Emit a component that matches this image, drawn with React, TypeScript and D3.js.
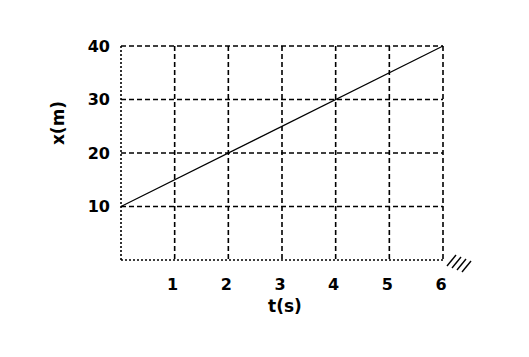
import React from "react";
import * as d3 from "d3";

const xTicks = [1, 2, 3, 4, 5, 6];
const yTicks = [10, 20, 30, 40];
const lineT = [0, 6];
const lineX = [10, 40];

export default function App() {
  const W = 529, H = 357;
  const x = d3.scaleLinear().domain([0, 6]).range([121, 443]);
  const y = d3.scaleLinear().domain([0, 40]).range([260, 46]);
  const line = d3.line<number>().x((d) => x(lineT[d])).y((d) => y(lineX[d]));
  const font = "'DejaVu Sans', sans-serif";
  const hatch = [0, 1, 2, 3];
  return (
    <svg width={W} height={H} style={{ position: "absolute", left: 0, top: 0, background: "#fff" }}>
      {xTicks.map((t) => (
        <line key={"gx" + t} x1={x(t)} x2={x(t)} y1={y(40)} y2={y(0)} stroke="#000" strokeWidth={1.6} strokeDasharray="5,3" />
      ))}
      {yTicks.map((t) => (
        <line key={"gy" + t} x1={x(0)} x2={x(6)} y1={y(t)} y2={y(t)} stroke="#000" strokeWidth={1.6} strokeDasharray="5,3" />
      ))}
      <line x1={x(0)} x2={x(0)} y1={y(40)} y2={y(0)} stroke="#000" strokeWidth={1.6} strokeDasharray="2,2" />
      <line x1={x(0)} x2={x(6)} y1={y(0)} y2={y(0)} stroke="#000" strokeWidth={1.6} strokeDasharray="2,2" />
      <path d={line([0, 1]) || ""} fill="none" stroke="#000" strokeWidth={1.2} />
      {hatch.map((i) => (
        <line key={"h" + i} x1={447 + 5 * i} y1={266 + 2 * i} x2={456 + 5 * i} y2={255 + 2 * i} stroke="#000" strokeWidth={1.4} />
      ))}
      {yTicks.map((t) => (
        <text key={"ty" + t} x={110} y={y(t)} dy="0.36em" textAnchor="end" fontFamily={font} fontWeight="bold" fontSize={16}>
          {t}
        </text>
      ))}
      {xTicks.map((t) => (
        <text key={"tx" + t} x={x(t) - 2} y={284} dy="0.36em" textAnchor="middle" fontFamily={font} fontWeight="bold" fontSize={16}>
          {t}
        </text>
      ))}
      <text x={285} y={306} dy="0.36em" textAnchor="middle" fontFamily={font} fontWeight="bold" fontSize={17}>
        t(s)
      </text>
      <text transform="translate(58,123) rotate(-90)" dy="0.36em" textAnchor="middle" fontFamily={font} fontWeight="bold" fontSize={17}>
        x(m)
      </text>
    </svg>
  );
}
